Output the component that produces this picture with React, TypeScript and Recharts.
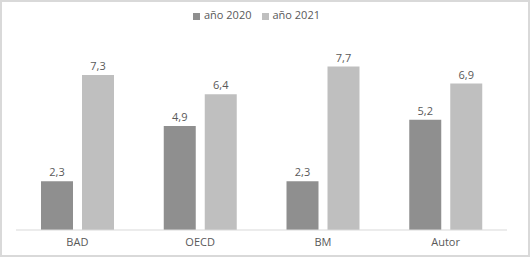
import React from 'react';
import { BarChart, Bar, XAxis, YAxis, Legend, LabelList } from 'recharts';

const categories = ['BAD', 'OECD', 'BM', 'Autor'];
const values2020 = [2.3, 4.9, 2.3, 5.2];
const values2021 = [7.3, 6.4, 7.7, 6.9];

const data = categories.map((c, i) => ({ name: c, y2020: values2020[i], y2021: values2021[i] }));

const fmt = (v: any) => Number(v).toFixed(1).replace('.', ',');
const FONT = '"Open Sans", sans-serif';

export default function App() {
  return (
    <div style={{ position: 'absolute', left: 0, top: 0, width: 530, height: 257, background: '#fff' }}>
      <div style={{ position: 'absolute', left: 0, top: 0, width: 526, height: 253, border: '2px solid #d9d9d9' }} />
      <BarChart
        width={530}
        height={257}
        data={data}
        margin={{ top: 24, right: 23, left: 16, bottom: 0 }}
        barSize={32}
        barGap={9}
        style={{ fontFamily: FONT }}
      >
        <XAxis
          dataKey="name"
          height={27}
          tickLine={false}
          axisLine={{ stroke: '#d9d9d9' }}
          tick={{ fill: '#595959', fontSize: 11, fontFamily: FONT }}
        />
        <YAxis hide domain={[0, 9]} />
        <Legend
          verticalAlign="top"
          align="center"
          iconType="square"
          iconSize={7}
          wrapperStyle={{ top: 7, fontSize: 11, fontFamily: FONT, color: '#595959' }}
          formatter={(v: any) => <span style={{ color: '#595959' }}>{v}</span>}
        />
        <Bar dataKey="y2020" name="año 2020" fill="#8f8f8f" isAnimationActive={false}>
          <LabelList dataKey="y2020" position="top" formatter={fmt} style={{ fill: '#595959', fontSize: 11, fontFamily: FONT }} />
        </Bar>
        <Bar dataKey="y2021" name="año 2021" fill="#bfbfbf" isAnimationActive={false}>
          <LabelList dataKey="y2021" position="top" formatter={fmt} style={{ fill: '#595959', fontSize: 11, fontFamily: FONT }} />
        </Bar>
      </BarChart>
    </div>
  );
}
